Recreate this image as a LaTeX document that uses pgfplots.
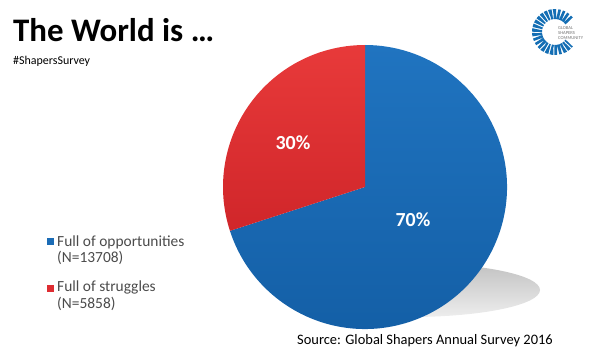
\documentclass[border=0pt]{standalone}
\usepackage{pgfplots}
\pgfplotsset{compat=1.18}
\usepackage{pgfplotstable}
\usepackage{fontspec}
\setmainfont{Carlito}
\definecolor{pieblueL}{RGB}{32,116,192}
\definecolor{pieblueD}{RGB}{19,94,165}
\definecolor{pieredL}{RGB}{232,58,58}
\definecolor{pieredD}{RGB}{208,38,42}
\definecolor{legblue}{RGB}{27,108,182}
\definecolor{legred}{RGB}{222,45,50}
\definecolor{legtext}{RGB}{75,75,75}
\definecolor{logoblue}{RGB}{20,110,180}

\pgfplotstableread{
label value n
opp 70 13708
str 30 5858
}\pietable

\begin{document}
\begin{tikzpicture}
\pgfplotstablegetelem{0}{value}\of\pietable \let\vopp\pgfplotsretval
\pgfplotstablegetelem{1}{value}\of\pietable \let\vstr\pgfplotsretval
\pgfmathsetmacro{\aend}{90+3.6*\vstr}
\begin{axis}[hide axis, scale only axis, width=600bp, height=357bp,
  xmin=0, xmax=600, ymin=0, ymax=357, clip=false]
\path (axis cs:0,0) rectangle (axis cs:600,357);
% shadow
\shade[top color=black!24, bottom color=black!7] (axis cs:410,67) ellipse [x radius=130bp, y radius=27bp];
% slices
\shade[top color=pieblueL, bottom color=pieblueD] (axis cs:365,170) -- ++(\aend:142bp) arc[start angle=\aend, end angle=450, radius=142bp] -- cycle;
\shade[top color=pieredL, bottom color=pieredD] (axis cs:365,170) -- ++(90:142bp) arc[start angle=90, end angle=\aend, radius=142bp] -- cycle;
% percentage labels
\node[text=white, font=\fontsize{20}{22}\selectfont\bfseries] at (axis cs:293,214) {\vstr\%};
\node[text=white, font=\fontsize{20}{22}\selectfont\bfseries] at (axis cs:413,137) {\vopp\%};
% title
\node[anchor=base west, font=\fontsize{33}{36}\selectfont\bfseries, inner sep=0pt] at (axis cs:13,315.3) {The World is \ldots};
\node[anchor=base west, font=\fontsize{12}{14}\selectfont, inner sep=0pt] at (axis cs:13,292.7) {\#ShapersSurvey};
% legend
\fill[legblue] (axis cs:47,112) rectangle (axis cs:54,119);
\fill[legred] (axis cs:47,65) rectangle (axis cs:54,72);
\node[anchor=base west, font=\fontsize{15.5}{17}\selectfont, text=legtext, inner sep=0pt] at (axis cs:57,110.3) {Full of opportunities};
\node[anchor=base west, font=\fontsize{15.5}{17}\selectfont, text=legtext, inner sep=0pt] at (axis cs:57,94.3) {(N=13708)};
\node[anchor=base west, font=\fontsize{15.5}{17}\selectfont, text=legtext, inner sep=0pt] at (axis cs:57,66) {Full of struggles};
\node[anchor=base west, font=\fontsize{15.5}{17}\selectfont, text=legtext, inner sep=0pt] at (axis cs:57,49) {(N=5858)};
% source
\node[anchor=base west, font=\fontsize{14.5}{16}\selectfont, inner sep=0pt] at (axis cs:297,13) {Source: Global Shapers Annual Survey 2016};
% logo
\draw[logoblue, line width=10bp, dash pattern=on 2.6bp off 1.2bp] (axis cs:555,325) ++(38:18bp) arc[start angle=38, end angle=322, radius=18bp];
\node[anchor=west, align=left, text=black!55, font=\fontsize{4.6}{4.6}\selectfont, inner sep=0pt] at (axis cs:558,324) {GLOBAL\\SHAPERS\\COMMUNITY};
\end{axis}
\end{tikzpicture}
\end{document}
